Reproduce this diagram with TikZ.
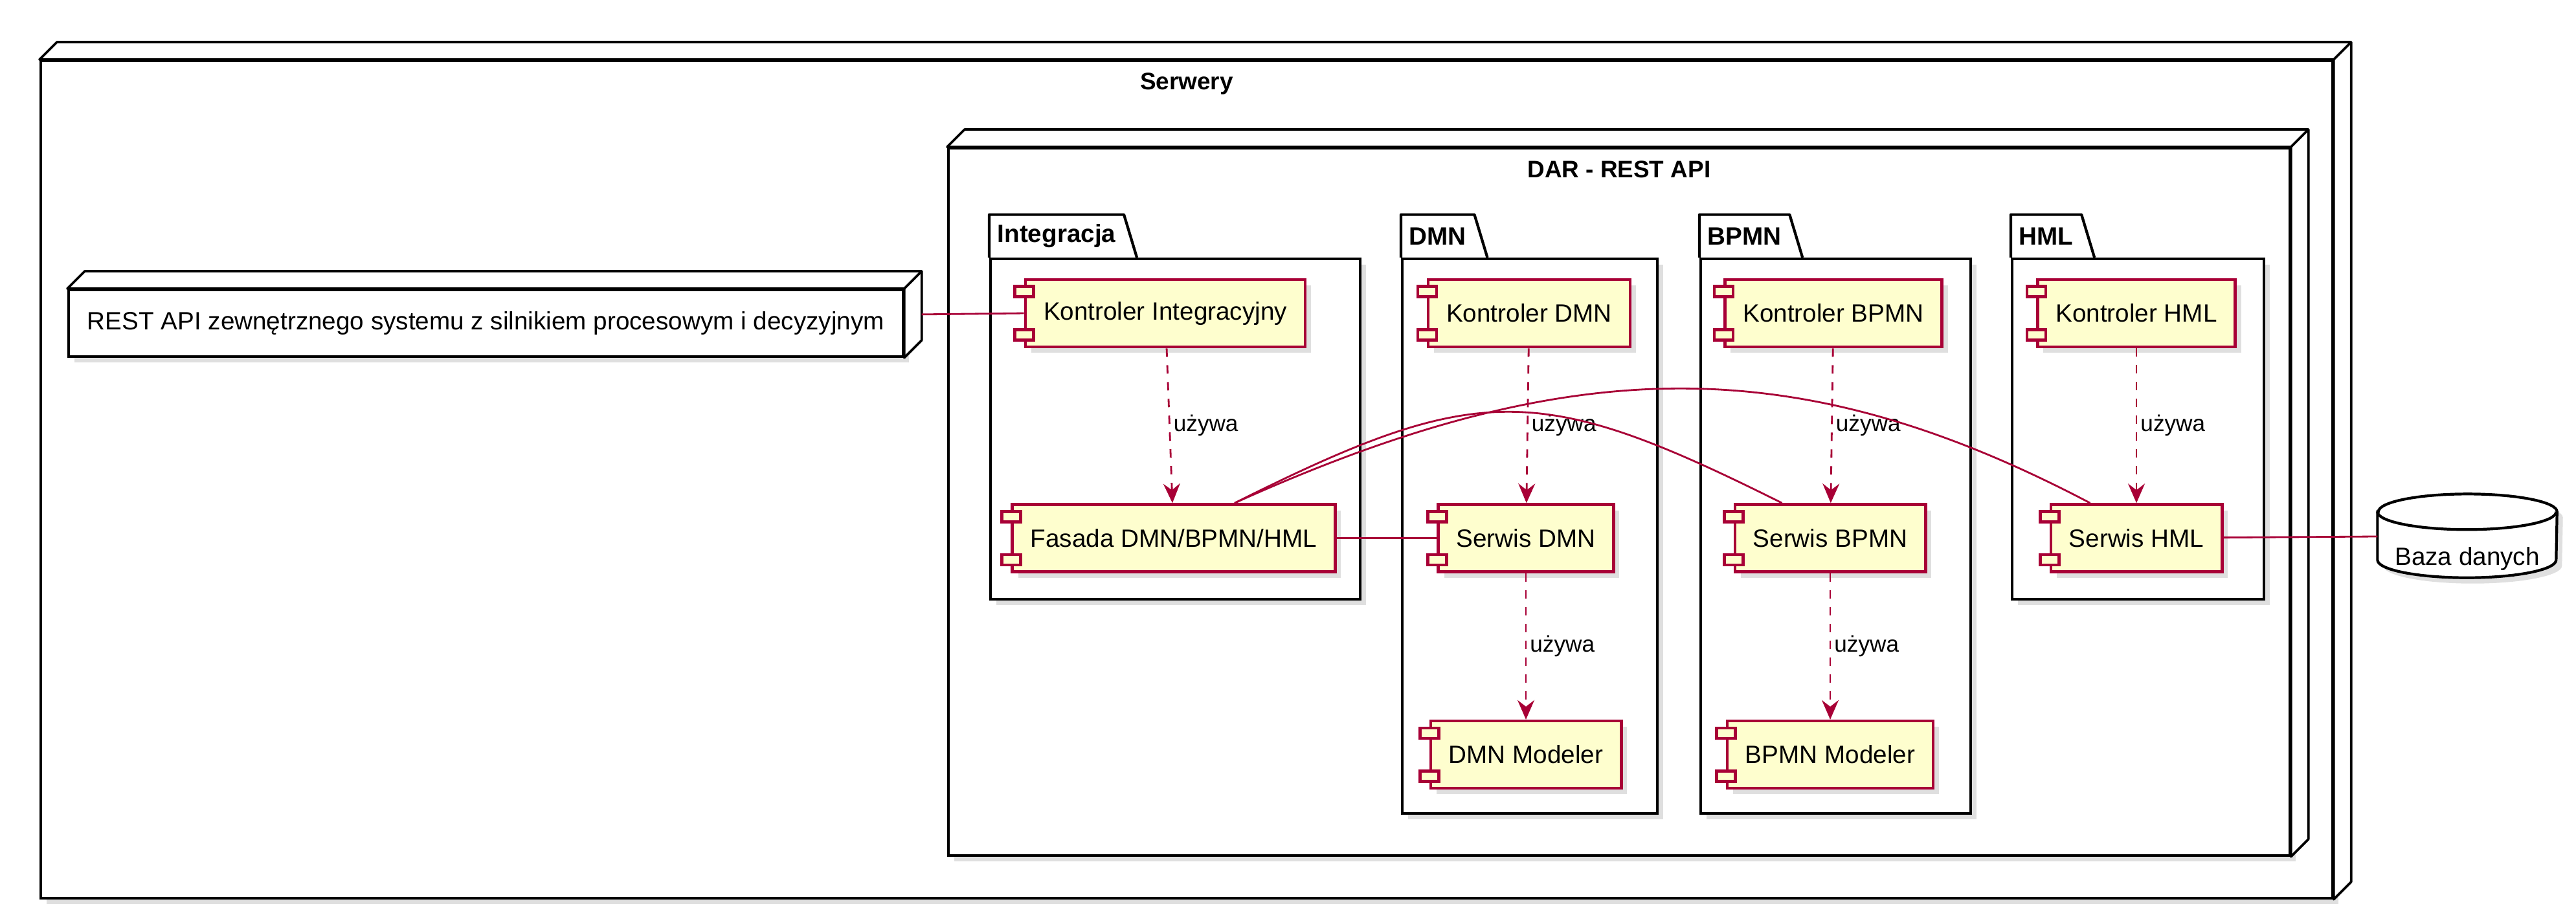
\documentclass[tikz,border=0pt]{standalone}
\usepackage{fontspec}
\setmainfont{Liberation Sans}
\usetikzlibrary{positioning, shadows, arrows.meta, backgrounds}
\definecolor{compborder}{HTML}{A80036}
\definecolor{compfill}{HTML}{FEFECE}
\newcommand{\compfont}{\fontsize{11}{13}\selectfont}
% top and side faces of a 3D node
\newcommand{\nodedepth}[1]{%
    \draw[devface] (#1.north west) -- ++(0.27,0.27) -| ([shift={(0.27cm,0.27cm)}]#1.south east) -- (#1.south east) -- (#1.north east) -- cycle;
    \draw[devface] (#1.north east) -- ++(0.27,0.27);
}

\begin{document}
\begin{tikzpicture}[
    softshadow/.style={drop shadow={shadow xshift=0.09cm, shadow yshift=-0.09cm, opacity=0.25}},
    devnode/.style={rectangle, draw, fill=white, line width=1.05pt, anchor=north west, softshadow},
    devface/.style={draw, fill=white, line width=1.05pt, line join=round},
    title/.style={font=\bfseries\fontsize{10.5}{12}\selectfont},
    pkg/.style={rectangle, draw, fill=white, line width=1.2pt, anchor=north west, softshadow},
    pkgtab/.style={anchor=south west, inner xsep=0.12cm, minimum height=0.65cm, font=\bfseries\compfont},
    pkgline/.style={draw, line width=1.2pt, line join=round},
    comp/.style={rectangle, draw=compborder, fill=compfill, line width=1.3pt, minimum height=1.04cm, inner xsep=0.28cm, font=\compfont, softshadow},
    port/.style={draw=compborder, fill=compfill, line width=1.3pt},
    dbnode/.style={rectangle, minimum width=2.76cm, minimum height=1.28cm, text height=0.9cm, text depth=0cm, font=\compfont},
    dbline/.style={draw, fill=white, line width=1.2pt},
    link/.style={draw=compborder, line width=0.8pt},
    uses/.style={link, dash pattern=on 0.13cm off 0.13cm, -{Stealth[length=0.3cm, width=0.26cm, inset=0.1cm]}},
    usel/.style={midway, right, inner sep=0.05cm, text=black, font=\fontsize{10}{12}\selectfont}
]
    \useasboundingbox (0,0) rectangle (39.79,-14.16);

    % Serwery
    \node[devnode, minimum width=35.40cm, minimum height=12.94cm] (serwery) at (0.61,-0.92) {};
    \nodedepth{serwery}
    \node[title] (serwerylbl) at ([yshift=-0.37cm]serwery.north) {Serwery};

    % External system
    \node[devnode, minimum width=12.89cm, minimum height=1.03cm, font=\compfont] (rest) at (1.04,-4.46) {REST API zewnętrznego systemu z silnikiem procesowym i decyzyjnym};
    \nodedepth{rest}

    % DAR - REST API
    \node[devnode, minimum width=20.72cm, minimum height=10.93cm] (dar) at (14.63,-2.27) {};
    \nodedepth{dar}
    \node[title] (darlbl) at ([yshift=-0.35cm]dar.north) {DAR - REST API};

    % Packages
    \node[pkg, minimum width=5.71cm, minimum height=5.26cm] (integracja) at (15.28,-3.98) {};
    \node[pkgtab] (integracja-tab) at (integracja.north west) {Integracja};
    \node[pkg, minimum width=3.94cm, minimum height=8.57cm] (dmn) at (21.64,-3.98) {};
    \node[pkgtab] (dmn-tab) at (dmn.north west) {DMN};
    \node[pkg, minimum width=4.17cm, minimum height=8.57cm] (bpmn) at (26.25,-3.98) {};
    \node[pkgtab] (bpmn-tab) at (bpmn.north west) {BPMN};
    \node[pkg, minimum width=3.89cm, minimum height=5.26cm] (hml) at (31.06,-3.98) {};
    \node[pkgtab] (hml-tab) at (hml.north west) {HML};
    \foreach \p in {integracja, dmn, bpmn, hml} {
        \draw[pkgline] (\p-tab.south west) -- (\p-tab.north west) -- (\p-tab.north east) -- ([xshift=0.2cm]\p-tab.south east);
    }

    % Components
    \node[comp] (kint) at (18.00,-4.84) {Kontroler Integracyjny};
    \node[comp, below=2.39cm of kint, xshift=0.13cm] (fasada) {Fasada DMN/BPMN/HML};
    \node[comp] (kdmn) at (23.62,-4.84) {Kontroler DMN};
    \node[comp, below=2.39cm of kdmn, xshift=-0.05cm] (sdmn) {Serwis DMN};
    \node[comp, below=2.26cm of sdmn] (dmnmod) {DMN Modeler};
    \node[comp] (kbpmn) at (28.32,-4.84) {Kontroler BPMN};
    \node[comp, below=2.39cm of kbpmn, xshift=-0.05cm] (sbpmn) {Serwis BPMN};
    \node[comp, below=2.26cm of sbpmn] (bpmnmod) {BPMN Modeler};
    \node[comp] (khml) at (33.00,-4.84) {Kontroler HML};
    \node[comp, below=2.39cm of khml] (shml) {Serwis HML};
    \foreach \c in {kint, fasada, kdmn, sdmn, dmnmod, kbpmn, sbpmn, bpmnmod, khml, shml} {
        \draw[port] ([shift={(-0.14cm,-0.13cm)}]\c.north west) rectangle ++(0.29,-0.16);
        \draw[port] ([shift={(-0.14cm,0.13cm)}]\c.south west) rectangle ++(0.29,0.16);
    }

    % Database
    \node[dbnode] (baza) at (38.11,-8.28) {Baza danych};
    \begin{scope}[on background layer]
        \draw[dbline, softshadow] ([yshift=-0.275cm]baza.north west) -- ([yshift=0.275cm]baza.south west)
            arc[start angle=180, end angle=360, x radius=1.38cm, y radius=0.275cm]
            -- ([yshift=-0.275cm]baza.north east)
            arc[start angle=0, end angle=180, x radius=1.38cm, y radius=0.275cm] -- cycle;
        \draw[dbline, fill=none] ([yshift=-0.275cm]baza.north west) arc[start angle=180, end angle=360, x radius=1.38cm, y radius=0.275cm];
    \end{scope}

    % Connectors
    \draw[link] ([shift={(0.27cm,0.135cm)}]rest.east) -- (kint.west);
    \draw[uses] (kint) -- node[usel] {używa} (fasada);
    \draw[uses] (kdmn) -- node[usel] {używa} (sdmn);
    \draw[uses] (sdmn) -- node[usel] {używa} (dmnmod);
    \draw[uses] (kbpmn) -- node[usel] {używa} (sbpmn);
    \draw[uses] (sbpmn) -- node[usel] {używa} (bpmnmod);
    \draw[uses] (khml) -- node[usel] {używa} (shml);
    \draw[link] (fasada) -- (sdmn);
    \draw[link] ([xshift=0.94cm]fasada.north) .. controls +(3.76,1.88) and +(-3.76,1.88) .. ([xshift=-0.745cm]sbpmn.north);
    \draw[link] ([xshift=0.94cm]fasada.north) .. controls +(5.23,2.36) and +(-4.49,2.36) .. ([xshift=-0.715cm]shml.north);
    \draw[link] (shml) -- (baza);

\end{tikzpicture}
\end{document}
